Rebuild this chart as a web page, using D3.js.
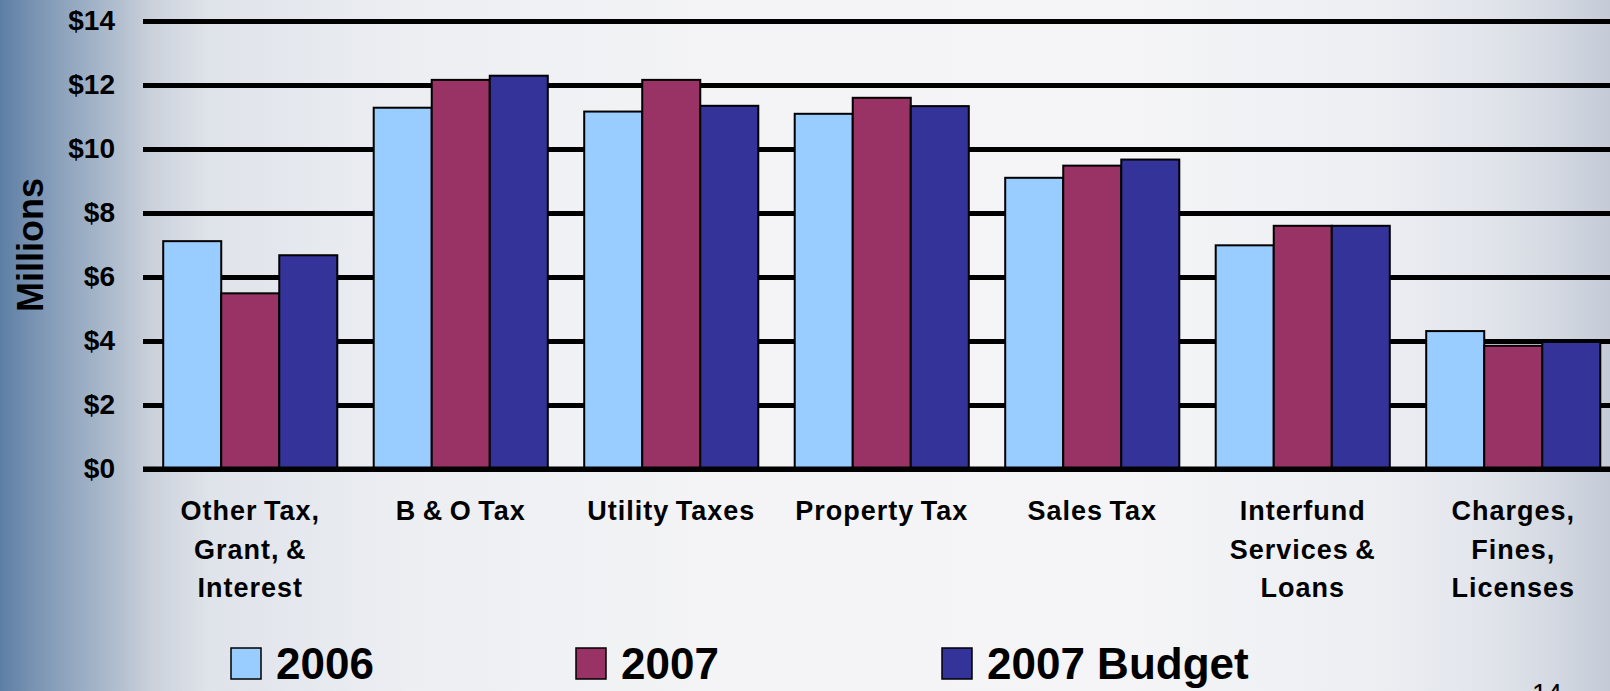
<!DOCTYPE html>
<html>
<head>
<meta charset="utf-8">
<script src="https://cdn.jsdelivr.net/npm/d3@7"></script>
<style>
  html, body { margin: 0; padding: 0; overflow: hidden; background: #f4f4f6; }
  svg { display: block; font-family: "Liberation Sans", Arial, Helvetica, sans-serif; }
</style>
</head>
<body>
<svg id="chart" width="1610" height="691"></svg>
<script>
// Revenue by source, in millions of dollars
const categories = [
  "Other Tax,\nGrant, &\nInterest",
  "B & O Tax",
  "Utility Taxes",
  "Property Tax",
  "Sales Tax",
  "Interfund\nServices &\nLoans",
  "Charges,\nFines,\nLicenses"
];
const seriesNames = ["2006", "2007", "2007 Budget"];
const values2006   = [7.12, 11.29, 11.17, 11.10, 9.10, 6.99, 4.31];
const values2007   = [5.49, 12.16, 12.16, 11.60, 9.48, 7.60, 3.85];
const valuesBudget = [6.68, 12.29, 11.35, 11.34, 9.67, 7.60, 3.97];
const yTicks = [0, 2, 4, 6, 8, 10, 12, 14];
const seriesColors = ["#99CCFF", "#993366", "#333399"];

const seriesValues = [values2006, values2007, valuesBudget];
const rows = categories.map((c, i) => ({
  category: c,
  bars: seriesNames.map((s, j) => ({ series: s, value: seriesValues[j][i] }))
}));

const svg = d3.select("#chart");
const W = 1610, H = 691;

// Slide background: blue-grey fade on the left, pale centre, grey on the right
const defs = svg.append("defs");
const bg = defs.append("linearGradient").attr("id", "bg")
  .attr("x1", "0").attr("x2", "1").attr("y1", "0").attr("y2", "0");
[
  [0.000, "#5c7ea4"], [0.020, "#7892b2"], [0.045, "#94a8c0"], [0.075, "#b4c0cf"],
  [0.095, "#cbd2dc"], [0.130, "#dfe3ea"], [0.250, "#eceef2"], [0.450, "#f4f4f6"],
  [0.700, "#f5f5f7"], [0.860, "#eceef2"], [0.920, "#e2e5ec"], [0.960, "#d6dbe3"],
  [1.000, "#c4cbd7"]
].forEach(([o, c]) => bg.append("stop").attr("offset", o).attr("stop-color", c));
svg.append("rect").attr("width", W).attr("height", H).attr("fill", "url(#bg)");

// Scales
const plotLeft = 143, plotRight = 1625;
const y = d3.scaleLinear().domain([0, 14]).range([469, 21]);
const x0 = d3.scaleBand().domain(categories)
  .range([145, 145 + 7 * 210.5]).paddingInner(0.173).paddingOuter(0.0865);
const x1 = d3.scaleBand().domain(seriesNames).range([0, x0.bandwidth()]);
const color = d3.scaleOrdinal().domain(seriesNames).range(seriesColors);

// Gridlines and value labels
const yAxis = svg.append("g")
  .attr("transform", `translate(${plotLeft},0)`)
  .call(d3.axisLeft(y).tickValues(yTicks).tickFormat(d => "$" + d)
    .tickSize(-(plotRight - plotLeft)).tickPadding(28));
yAxis.select(".domain").remove();
yAxis.selectAll(".tick line").attr("stroke", "#000").attr("stroke-width", 5);
yAxis.selectAll(".tick text")
  .attr("fill", "#000").attr("font-size", 28).attr("font-weight", "bold")
  .attr("font-family", "\"Liberation Sans\", Arial, sans-serif");

// Bars
const groups = svg.append("g").selectAll("g").data(rows).join("g")
  .attr("transform", d => `translate(${x0(d.category)},0)`);
groups.selectAll("rect").data(d => d.bars).join("rect")
  .attr("x", d => x1(d.series))
  .attr("y", d => y(d.value))
  .attr("width", x1.bandwidth())
  .attr("height", d => y(0) - y(d.value))
  .attr("fill", d => color(d.series))
  .attr("stroke", "#000").attr("stroke-width", 2);

// Baseline
svg.append("line")
  .attr("x1", plotLeft).attr("x2", plotRight)
  .attr("y1", y(0)).attr("y2", y(0))
  .attr("stroke", "#000").attr("stroke-width", 5);

// Category labels, split onto several lines
const xAxis = svg.append("g")
  .attr("transform", `translate(0,${y(0)})`)
  .call(d3.axisBottom(x0).tickSize(0).tickPadding(0));
xAxis.select(".domain").remove();
xAxis.selectAll(".tick text").each(function (d) {
  const t = d3.select(this);
  t.text(null).attr("y", 0).attr("dy", null)
    .attr("fill", "#000").attr("font-size", 27).attr("font-weight", "bold")
    .attr("letter-spacing", "1px").attr("word-spacing", "-2px")
    .attr("font-family", "\"Liberation Sans\", Arial, sans-serif");
  d.split("\n").forEach((line, i) => {
    t.append("tspan").attr("x", 0).attr("y", 51 + i * 38.5).text(line);
  });
});

// Axis title
svg.append("text")
  .attr("transform", "translate(43,245) rotate(-90)")
  .attr("text-anchor", "middle")
  .attr("font-size", 36).attr("font-weight", "bold").attr("fill", "#000")
  .text("Millions");

// Legend
const legendX = [231, 576, 942];
const legend = svg.append("g").selectAll("g").data(seriesNames).join("g")
  .attr("transform", (d, i) => `translate(${legendX[i]},648)`);
legend.append("rect")
  .attr("width", 30).attr("height", 31)
  .attr("fill", d => color(d)).attr("stroke", "#000").attr("stroke-width", 1.5);
legend.append("text")
  .attr("x", 45).attr("y", 31)
  .attr("font-size", 44).attr("font-weight", "bold").attr("fill", "#000")
  .text(d => d);

// Slide number
svg.append("text")
  .attr("x", 1532).attr("y", 703)
  .attr("font-size", 27).attr("fill", "#000")
  .text("14");
</script>
</body>
</html>
